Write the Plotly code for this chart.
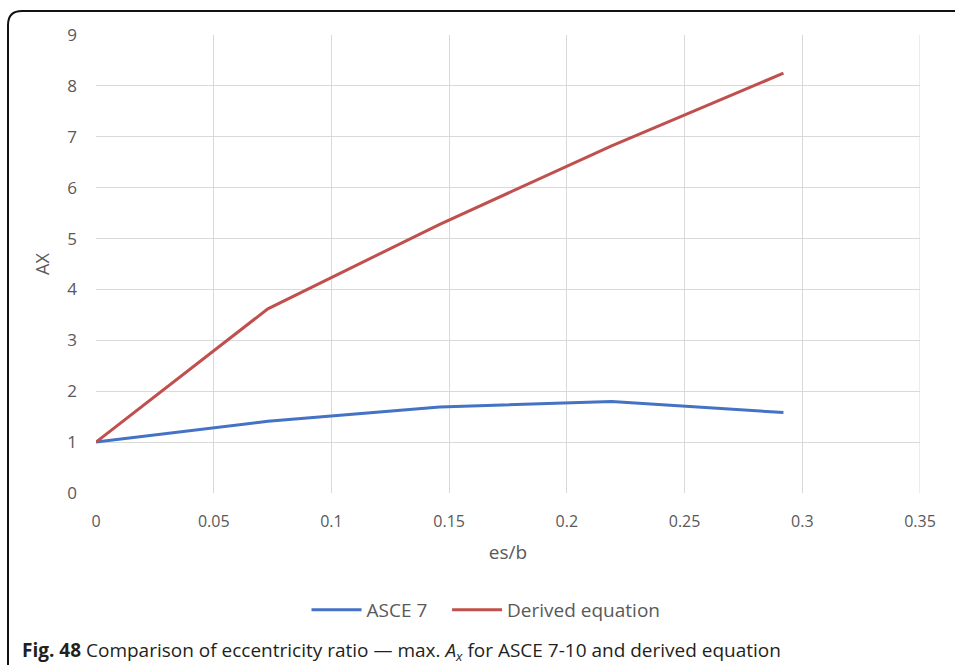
import plotly.graph_objects as go

# es/b ratio and max. A_x values
es_b = [0.0, 0.073, 0.146, 0.219, 0.292]
asce7 = [1.0, 1.41, 1.69, 1.80, 1.58]
derived = [1.0, 3.62, 5.28, 6.82, 8.25]

series_names = ["ASCE 7", "Derived equation"]

x_ticks = [0, 0.05, 0.1, 0.15, 0.2, 0.25, 0.3, 0.35]
x_tick_text = ["0", "0.05", "0.1", "0.15", "0.2", "0.25", "0.3", "0.35"]
y_ticks = list(range(0, 10))

W, H = 955, 665

def px(x):
    return x / W

def py(y):
    return 1 - y / H

pad = "\u00a0" * 3  # extra spacing between legend entries

fig = go.Figure()
fig.add_trace(go.Scatter(x=es_b, y=asce7, mode="lines", name=series_names[0] + pad,
                         line=dict(color="#4472c4", width=3)))
fig.add_trace(go.Scatter(x=es_b, y=derived, mode="lines", name=series_names[1],
                         line=dict(color="#c0504d", width=3)))

grey = "#595959"
sans = "Open Sans, sans-serif"

fig.update_layout(
    width=W, height=H,
    margin=dict(l=0, r=0, t=0, b=0),
    paper_bgcolor="white", plot_bgcolor="white",
    xaxis=dict(domain=[px(96), px(920)], range=[0, 0.35],
               tickvals=x_ticks, ticktext=x_tick_text,
               showgrid=True, gridcolor="#d9d9d9", gridwidth=1,
               zeroline=False, showline=False, ticks="",
               ticklabelstandoff=17,
               tickfont=dict(family=sans, size=16, color=grey),
               title=dict(text="es/b", standoff=14, font=dict(family=sans, size=19, color=grey)),
               automargin=False),
    yaxis=dict(domain=[py(493), py(35)], range=[0, 9],
               tickvals=y_ticks,
               showgrid=True, gridcolor="#d9d9d9", gridwidth=1,
               zeroline=False, showline=False, ticks="",
               ticklabelstandoff=18,
               tickfont=dict(family=sans, size=17, color=grey),
               title=dict(text="AX", standoff=12, font=dict(family=sans, size=18, color=grey)),
               automargin=False),
    showlegend=True,
    legend=dict(orientation="h", x=px(486), y=py(610), xanchor="center", yanchor="middle",
                font=dict(family=sans, size=19, color=grey),
                itemwidth=50, tracegroupgap=0, bgcolor="rgba(0,0,0,0)"),
)

# plot-area outline on the right edge
fig.add_shape(type="line", xref="x", yref="y", x0=0.35, x1=0.35, y0=0, y1=9,
              line=dict(color="#d9d9d9", width=1))

# rounded frame around the figure panel
r = 14
frame = (f"M {px(8)} {py(H + 5)} L {px(8)} {py(11 + r)} "
         f"Q {px(8)} {py(11)} {px(8 + r)} {py(11)} L {px(W + 5)} {py(11)}")
fig.add_shape(type="path", xref="paper", yref="paper", path=frame,
              line=dict(color="#111111", width=2))

fig.add_annotation(
    xref="paper", yref="paper", x=px(20), y=py(651), xanchor="left", yanchor="middle",
    text="<b>Fig. 48</b> Comparison of eccentricity ratio — max. <i>A<sub>x</sub></i> for ASCE 7-10 and derived equation",
    showarrow=False, font=dict(family=sans, size=19, color="#231f20"),
)

fig.write_html("out.html")
